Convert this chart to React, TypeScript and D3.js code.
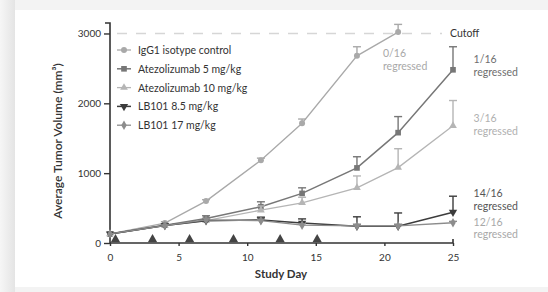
import React, { useEffect, useRef } from "react";
import * as d3 from "d3";

// study days sampled
const days = [0, 4, 7, 11, 14, 18, 21, 25];

// tumor volume means (mm3) and upper error bars
const iggValues = [130, 285, 600, 1185, 1715, 2680, 3020];
const iggErrors = [0, 20, 20, 30, 60, 130, 110];
const atezo5Values = [130, 255, 350, 520, 710, 1075, 1580, 2480];
const atezo5Errors = [0, 20, 40, 70, 80, 160, 230, 330];
const atezo10Values = [130, 250, 320, 470, 575, 790, 1080, 1680];
const atezo10Errors = [0, 15, 30, 60, 80, 170, 270, 360];
const lb85Values = [130, 250, 320, 330, 285, 240, 240, 440];
const lb85Errors = [0, 15, 30, 40, 60, 135, 190, 230];
const lb17Values = [130, 250, 330, 320, 255, 245, 245, 290];
const lb17Errors = [0, 10, 20, 20, 20, 20, 20, 20];

const seriesNames = [
  "IgG1 isotype control",
  "Atezolizumab 5 mg/kg",
  "Atezolizumab 10 mg/kg",
  "LB101 8.5 mg/kg",
  "LB101 17 mg/kg",
];

// dosing days marked on the x axis
const doseDays = [0.4, 3.1, 5.8, 9, 12.4, 15.1];

const xTicks = [0, 5, 10, 15, 20, 25];
const yTicks = [0, 1000, 2000, 3000];
const cutoff = 3000;

const regressLabels = [
  { count: "0/16", day: 19.9, value: 2660, color: "#a8a8a8" },
  { count: "1/16", day: 26.5, value: 2575, color: "#6e6e6e" },
  { count: "3/16", day: 26.5, value: 1730, color: "#b0b0b0" },
  { count: "14/16", day: 26.5, value: 655, color: "#555" },
  { count: "12/16", day: 26.5, value: 245, color: "#a8a8a8" },
];

const App = () => {
  const ref = useRef<SVGSVGElement>(null);

  useEffect(() => {
    const svg = d3.select(ref.current);
    svg.selectAll("*").remove();
    const width = 548,
      height = 292;
    const font = "Lato, 'Open Sans', sans-serif";

    // backdrop and white panel
    const defs = svg.append("defs");
    const grad = defs
      .append("linearGradient")
      .attr("id", "shade")
      .attr("x1", "0")
      .attr("x2", "1");
    grad.append("stop").attr("offset", "0").attr("stop-color", "#f6f6f6");
    grad.append("stop").attr("offset", "1").attr("stop-color", "#e4e4e4");

    svg.append("rect").attr("width", width).attr("height", height).attr("fill", "#f3f3f3");
    svg.append("rect").attr("x", 0).attr("y", 0).attr("width", 15).attr("height", height).attr("fill", "url(#shade)");
    svg.append("rect").attr("x", 15).attr("y", 10).attr("width", width - 15).attr("height", 277).attr("fill", "#fff");

    const x = d3.scaleLinear().domain([0, 25]).range([110, 453]);
    const y = d3.scaleLinear().domain([0, 3150]).range([243, 23]);

    const series = [
      { values: iggValues, errors: iggErrors, color: "#a9a9a9", shape: d3.symbolCircle, size: 28, width: 1.3 },
      { values: atezo5Values, errors: atezo5Errors, color: "#777", shape: d3.symbolSquare, size: 32, width: 1.5 },
      { values: atezo10Values, errors: atezo10Errors, color: "#b5b5b5", shape: d3.symbolTriangle, size: 26, width: 1.3 },
      { values: lb85Values, errors: lb85Errors, color: "#3c3c3c", shape: d3.symbolTriangle, size: 30, width: 1.5, flip: true },
      { values: lb17Values, errors: lb17Errors, color: "#8c8c8c", shape: d3.symbolDiamond, size: 26, width: 1.3 },
    ];

    // cutoff line
    svg
      .append("line")
      .attr("x1", 117)
      .attr("x2", 442)
      .attr("y1", y(cutoff))
      .attr("y2", y(cutoff))
      .attr("stroke", "#d6d6d6")
      .attr("stroke-width", 1.5)
      .attr("stroke-dasharray", "10,9");
    svg
      .append("text")
      .attr("x", 450)
      .attr("y", y(cutoff) + 4)
      .attr("font-family", font)
      .attr("font-size", 10.5)
      .attr("fill", "#333")
      .text("Cutoff");

    // axes
    const yAxis = svg
      .append("g")
      .attr("transform", `translate(${x(0)},0)`)
      .call(d3.axisLeft(y).tickValues(yTicks).tickSize(6).tickPadding(3).tickFormat(d3.format("d")));
    yAxis.select(".domain").attr("stroke", "#333").attr("stroke-width", 1.6).attr("d", `M-5,${y(3150)}H0V${y(0)}`);
    const xAxis = svg
      .append("g")
      .attr("transform", `translate(0,${y(0)})`)
      .call(d3.axisBottom(x).tickValues(xTicks).tickSize(3).tickPadding(8));
    xAxis.select(".domain").attr("stroke", "#333").attr("stroke-width", 1.6).attr("d", `M${x(0)},0H${x(25)}V-4`);
    [yAxis, xAxis].forEach((a) => {
      a.selectAll(".tick line").attr("stroke", "#333").attr("stroke-width", 1.4);
      a.selectAll(".tick text").attr("font-family", font).attr("font-size", 10).attr("fill", "#333");
    });

    // axis titles
    svg
      .append("text")
      .attr("transform", `translate(62,141) rotate(-90)`)
      .attr("text-anchor", "middle")
      .attr("font-family", font)
      .attr("font-size", 12)
      .attr("font-weight", 600)
      .attr("fill", "#333")
      .text("Average Tumor Volume (mm³)");
    svg
      .append("text")
      .attr("x", 281)
      .attr("y", 278)
      .attr("text-anchor", "middle")
      .attr("font-family", font)
      .attr("font-size", 11.5)
      .attr("font-weight", 700)
      .attr("fill", "#333")
      .text("Study Day");

    // dosing markers
    svg
      .selectAll(".dose")
      .data(doseDays)
      .enter()
      .append("path")
      .attr("d", d3.symbol().type(d3.symbolTriangle).size(38))
      .attr("transform", (d) => `translate(${x(d)},${y(0) - 3.5})`)
      .attr("fill", "#444");

    // series lines, error bars and markers
    series.forEach((s) => {
      const pts = s.values.map((v, i) => ({ day: days[i], v, e: s.errors[i] }));
      const line = d3
        .line<any>()
        .x((d) => x(d.day))
        .y((d) => y(d.v));
      svg
        .append("path")
        .datum(pts)
        .attr("d", line)
        .attr("fill", "none")
        .attr("stroke", s.color)
        .attr("stroke-width", s.width);
      const eb = svg.append("g").attr("stroke", s.color).attr("stroke-width", 1.4);
      pts
        .filter((d) => d.e > 0)
        .forEach((d) => {
          eb.append("line").attr("x1", x(d.day)).attr("x2", x(d.day)).attr("y1", y(d.v)).attr("y2", y(d.v + d.e));
          eb.append("line")
            .attr("x1", x(d.day) - 4)
            .attr("x2", x(d.day) + 4)
            .attr("y1", y(d.v + d.e))
            .attr("y2", y(d.v + d.e));
        });
      svg
        .selectAll(null)
        .data(pts)
        .enter()
        .append("path")
        .attr("d", d3.symbol().type(s.shape).size(s.size))
        .attr("transform", (d) => `translate(${x(d.day)},${y(d.v)})${s.flip ? " rotate(180)" : ""}`)
        .attr("fill", s.color);
    });

    // legend
    const legend = svg.append("g").attr("transform", "translate(117,50)");
    seriesNames.forEach((name, i) => {
      const s = series[i];
      const row = legend.append("g").attr("transform", `translate(0,${i * 18.8})`);
      row.append("line").attr("x1", 0).attr("x2", 14).attr("stroke", s.color).attr("stroke-width", s.width);
      row
        .append("path")
        .attr("d", d3.symbol().type(s.shape).size(s.size))
        .attr("transform", `translate(7,0)${s.flip ? " rotate(180)" : ""}`)
        .attr("fill", s.color);
      row
        .append("text")
        .attr("x", 21)
        .attr("y", 4)
        .attr("font-family", font)
        .attr("font-size", 10.5)
        .attr("fill", "#333")
        .text(name);
    });

    // regression annotations
    regressLabels.forEach((r) => {
      const t = svg
        .append("text")
        .attr("x", x(r.day))
        .attr("y", y(r.value))
        .attr("font-family", font)
        .attr("font-size", 10.5)
        .attr("fill", r.color);
      t.append("tspan").attr("x", x(r.day)).text(r.count);
      t.append("tspan").attr("x", x(r.day)).attr("dy", 12.5).text("regressed");
    });
  }, []);

  return <svg ref={ref} width="548" height="292" style={{ position: "absolute", left: 0, top: 0 }}></svg>;
};

export default App;
